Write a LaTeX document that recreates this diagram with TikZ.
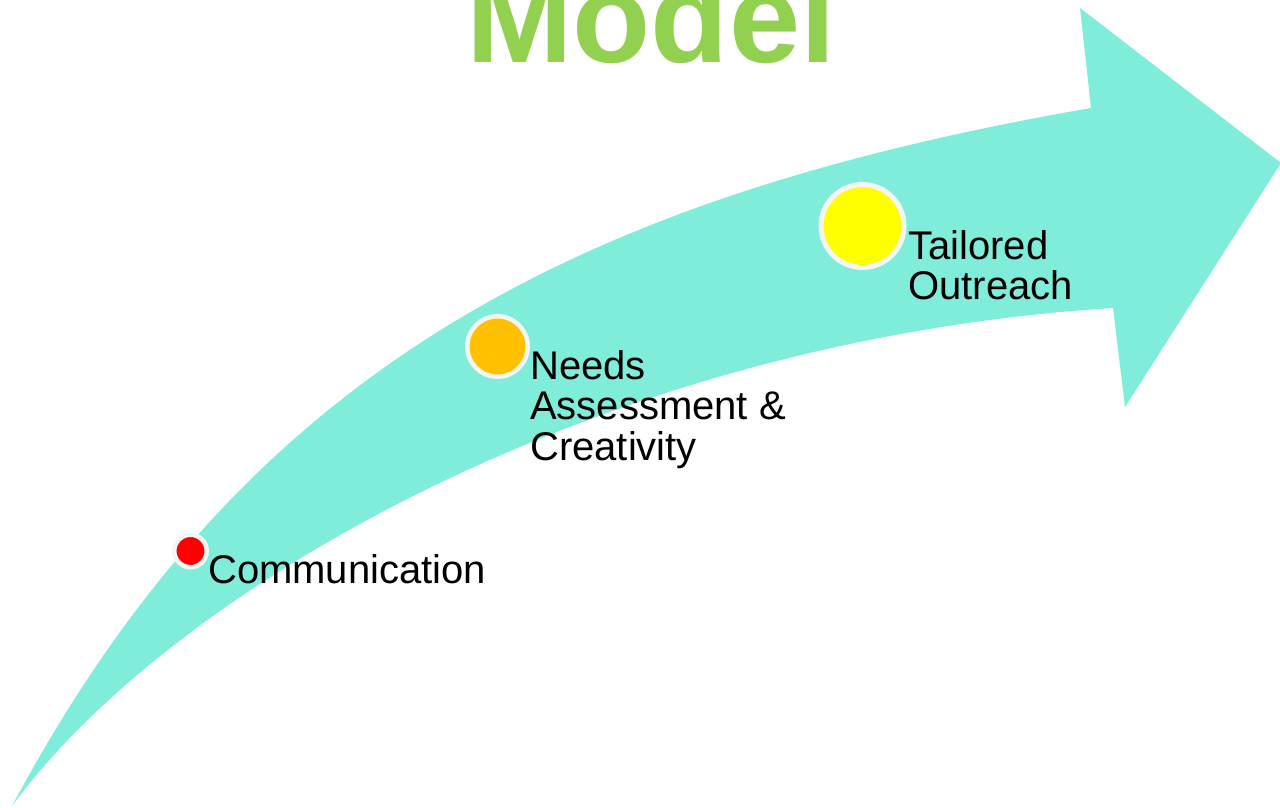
\documentclass[tikz,border=0pt]{standalone}
\usepackage{fontspec}
\setmainfont{Liberation Sans}
\definecolor{arrowteal}{RGB}{128,236,218}
\definecolor{titlegreen}{RGB}{146,208,80}
\definecolor{ringwhite}{RGB}{245,245,245}
\definecolor{dotred}{RGB}{255,0,0}
\definecolor{dotorange}{RGB}{255,192,0}
\definecolor{dotyellow}{RGB}{255,255,0}
\begin{document}
\begin{tikzpicture}[x=1pt,y=-1pt,
  dot/.style={circle,draw=ringwhite,inner sep=0pt},
  lbl/.style={anchor=base west,inner sep=0pt,align=left,font=\fontsize{40}{40.5}\selectfont}]
\useasboundingbox (0,0) rectangle (1280,808);
\clip (0,0) rectangle (1280,808);
% curved arrow
\fill[arrowteal] (12,806) .. controls (240,380) and (560,200) .. (1091,108)
  -- (1080,8) -- (1281,163) -- (1125,407) -- (1113,308)
  .. controls (600,340) and (170,590) .. (12,806) -- cycle;
% title
\node[anchor=base,inner sep=0pt,text=titlegreen,font=\fontsize{128}{128}\bfseries\selectfont] (title) at (651,63) {Model};
% dots
\node[dot,fill=dotred,line width=4.5pt,minimum size=32.5pt] (d1) at (190.5,551) {};
\node[dot,fill=dotorange,line width=4.5pt,minimum size=60.5pt] (d2) at (497.5,346.5) {};
\node[dot,fill=dotyellow,line width=5pt,minimum size=83pt] (d3) at (862.5,226) {};
% labels (base anchor = baseline of the last line)
\node[lbl] (l1) at (208,583) {Communication};
\node[lbl] (l2) at (530,460) {Needs\\Assessment \&\\Creativity};
\node[lbl] (l3) at (908,299.5) {Tailored\\Outreach};
\end{tikzpicture}
\end{document}
